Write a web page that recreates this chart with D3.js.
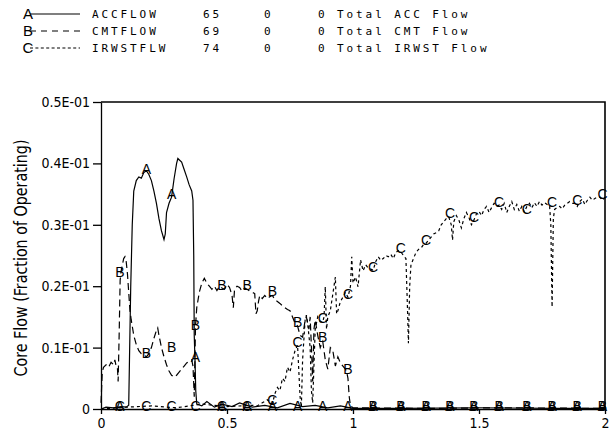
<!DOCTYPE html>
<html>
<head>
<meta charset="utf-8">
<script src="https://cdn.jsdelivr.net/npm/d3@7"></script>
<style>
  body { margin: 0; background: #fff; }
  svg { display: block; }
  .axis text { font-family: "DejaVu Sans Condensed", "DejaVu Sans", sans-serif; font-stretch: condensed; font-size: 14px; fill: #000; }
  .axis path, .axis line { stroke: #000; stroke-width: 1.3px; }
</style>
</head>
<body>
<div id="chart"></div>
<script>
// legend rows
var legendKeys = ["A", "B", "C"];
var legendNames = ["ACCFLOW", "CMTFLOW", "IRWSTFLW"];
var legendIds = ["65", "69", "74"];
var legendZero = ["0", "0", "0"];
var legendDesc = ["0 Total ACC Flow", "0 Total CMT Flow", "0 Total IRWST Flow"];

// tick labels
var yTicks = [0, 0.01, 0.02, 0.03, 0.04, 0.05];
var yTickLabels = ["0", "0.1E-01", "0.2E-01", "0.3E-01", "0.4E-01", "0.5E-01"];
var xTicks = [0, 0.5, 1, 1.5, 2];
var xTickLabels = ["0", "0.5", "1", "1.5", "2"];

// ACCFLOW [time, flow]
var accflow = [
  [0, 0], [0.02, 0.0003], [0.05, 0.0002], [0.08, 0.0004], [0.10, 0.0003], [0.11, 0.0006],
  [0.113, 0.008], [0.118, 0.020], [0.124, 0.030], [0.13, 0.0355], [0.14, 0.0372], [0.15, 0.0378],
  [0.16, 0.0376], [0.17, 0.0385], [0.18, 0.0388], [0.19, 0.0382], [0.20, 0.0372], [0.21, 0.0355],
  [0.22, 0.0335], [0.23, 0.031], [0.24, 0.029], [0.25, 0.0276], [0.255, 0.0285], [0.26, 0.032],
  [0.27, 0.0335], [0.28, 0.0345], [0.29, 0.0375], [0.30, 0.040], [0.305, 0.0408], [0.31, 0.0406],
  [0.32, 0.0402], [0.33, 0.039], [0.34, 0.0378], [0.35, 0.0365], [0.36, 0.0355], [0.365, 0.034],
  [0.368, 0.025], [0.370, 0.012], [0.373, 0.008], [0.376, 0.003], [0.38, 0.0008], [0.40, 0.0005],
  [0.42, 0.0012], [0.45, 0.0003], [0.48, 0.0008], [0.52, 0.0004], [0.55, 0.0010], [0.60, 0.0003],
  [0.65, 0.0006], [0.70, 0.0002], [0.75, 0.0009], [0.80, 0.0004], [0.85, 0.0006], [0.90, 0.0002],
  [0.95, 0.0005], [1.0, 0.0001], [1.2, 0.0001], [1.5, 0.0002], [1.8, 0.0001], [2.0, 0.0001]
];

// CMTFLOW [time, flow]
var cmtflow = [
  [0, 0.0010], [0.005, 0.0060], [0.01, 0.0068], [0.02, 0.0072], [0.03, 0.0068], [0.04, 0.0076],
  [0.05, 0.0072], [0.055, 0.0080], [0.06, 0.0070], [0.065, 0.0068], [0.068, 0.0045], [0.072, 0.012],
  [0.076, 0.021], [0.08, 0.0225], [0.085, 0.0235], [0.09, 0.0245], [0.095, 0.0248], [0.10, 0.0240],
  [0.105, 0.022], [0.11, 0.019], [0.115, 0.016], [0.12, 0.0145], [0.13, 0.012], [0.14, 0.0105],
  [0.15, 0.0095], [0.16, 0.0090], [0.17, 0.0088], [0.18, 0.0085], [0.19, 0.0090], [0.20, 0.0100],
  [0.21, 0.0115], [0.22, 0.0128], [0.225, 0.0132], [0.23, 0.0120], [0.24, 0.0100], [0.25, 0.0085],
  [0.26, 0.0072], [0.27, 0.0062], [0.28, 0.0055], [0.29, 0.0052], [0.30, 0.0055], [0.31, 0.0060],
  [0.32, 0.0065], [0.33, 0.0070], [0.34, 0.0075], [0.35, 0.0078], [0.36, 0.0080], [0.365, 0.0070],
  [0.37, 0.0020], [0.375, 0.0135], [0.38, 0.0165], [0.39, 0.019], [0.40, 0.0205], [0.41, 0.0213],
  [0.42, 0.0205], [0.43, 0.0200], [0.44, 0.0195], [0.45, 0.0200], [0.46, 0.0193], [0.47, 0.0200],
  [0.48, 0.0197], [0.49, 0.0195], [0.50, 0.0203], [0.51, 0.0198], [0.52, 0.0185], [0.525, 0.0165],
  [0.53, 0.0195], [0.54, 0.0200], [0.55, 0.0198], [0.56, 0.0192], [0.57, 0.0197], [0.58, 0.0195],
  [0.59, 0.0192], [0.60, 0.0190], [0.61, 0.0188], [0.615, 0.0155], [0.62, 0.0160], [0.625, 0.0175],
  [0.63, 0.0185], [0.64, 0.0180], [0.65, 0.0185], [0.66, 0.0180], [0.67, 0.0183], [0.68, 0.0185],
  [0.69, 0.0178], [0.70, 0.0175], [0.71, 0.0172], [0.72, 0.0168], [0.73, 0.0165], [0.74, 0.0162],
  [0.75, 0.0160], [0.76, 0.0150], [0.77, 0.0140], [0.78, 0.0135], [0.79, 0.0120], [0.80, 0.0117],
  [0.81, 0.0145], [0.815, 0.0150], [0.82, 0.0140], [0.825, 0.0130], [0.83, 0.0150], [0.835, 0.0100],
  [0.84, 0.0045], [0.845, 0.0130], [0.85, 0.0145], [0.86, 0.0120], [0.87, 0.0100], [0.88, 0.0110],
  [0.89, 0.0080], [0.90, 0.0065], [0.91, 0.0100], [0.92, 0.0095], [0.93, 0.0070], [0.94, 0.0085],
  [0.95, 0.0075], [0.96, 0.0070], [0.97, 0.0065], [0.975, 0.0060], [0.98, 0.0050], [0.985, 0.0020],
  [0.99, 0.0005], [1.0, 0.0002], [1.3, 0.0001], [1.6, 0.0002], [2.0, 0.0001]
];

// IRWSTFLW [time, flow]
var irwstflw = [
  [0, 0], [0.1, 0.0003], [0.2, 0.0005], [0.3, 0.0002], [0.4, 0.0008], [0.5, 0.0004], [0.6, 0.0006],
  [0.62, 0.0005], [0.64, 0.0010], [0.66, 0.0015], [0.68, 0.0008], [0.69, 0.0025], [0.70, 0.0035],
  [0.71, 0.0030], [0.72, 0.0050], [0.73, 0.0045], [0.74, 0.0068], [0.75, 0.0060], [0.76, 0.0080],
  [0.77, 0.0095], [0.78, 0.0104], [0.79, 0.0020], [0.795, 0.0003], [0.80, 0.0080], [0.81, 0.0145],
  [0.815, 0.0153], [0.82, 0.0140], [0.83, 0.0100], [0.835, 0.0030], [0.84, 0.0010], [0.85, 0.0130],
  [0.86, 0.0150], [0.87, 0.0142], [0.88, 0.0142], [0.885, 0.0150], [0.89, 0.0199], [0.895, 0.0130],
  [0.90, 0.0150], [0.91, 0.0160], [0.93, 0.0215], [0.935, 0.0155], [0.94, 0.0160], [0.95, 0.0175],
  [0.96, 0.0182], [0.97, 0.0190], [0.98, 0.0182], [0.99, 0.0200], [0.995, 0.0248], [1.00, 0.0205],
  [1.01, 0.0215], [1.02, 0.0199], [1.03, 0.0243], [1.04, 0.0225], [1.05, 0.0235], [1.06, 0.0230],
  [1.07, 0.0228], [1.08, 0.0226], [1.09, 0.0240], [1.10, 0.0248], [1.11, 0.0242], [1.12, 0.0245],
  [1.13, 0.0250], [1.14, 0.0248], [1.15, 0.0252], [1.16, 0.0245], [1.17, 0.0255], [1.18, 0.0258],
  [1.19, 0.0256], [1.20, 0.0250], [1.21, 0.0245], [1.215, 0.0180], [1.22, 0.0107], [1.225, 0.0200],
  [1.23, 0.0235], [1.24, 0.0245], [1.25, 0.0255], [1.26, 0.0260], [1.27, 0.0262], [1.28, 0.0268],
  [1.29, 0.0270], [1.30, 0.0275], [1.31, 0.0280], [1.32, 0.0285], [1.33, 0.0287], [1.34, 0.0290],
  [1.35, 0.0300], [1.36, 0.0305], [1.37, 0.0310], [1.38, 0.0313], [1.39, 0.0300], [1.395, 0.0275],
  [1.40, 0.0305], [1.41, 0.0315], [1.42, 0.0308], [1.43, 0.0295], [1.44, 0.0310], [1.45, 0.0320],
  [1.46, 0.0312], [1.47, 0.0300], [1.48, 0.0308], [1.49, 0.0318], [1.50, 0.0322], [1.51, 0.0315],
  [1.52, 0.0325], [1.53, 0.0330], [1.54, 0.0320], [1.55, 0.0328], [1.56, 0.0335], [1.57, 0.0330],
  [1.58, 0.0332], [1.59, 0.0325], [1.60, 0.0335], [1.61, 0.0320], [1.62, 0.0330], [1.63, 0.0338],
  [1.64, 0.0325], [1.65, 0.0333], [1.66, 0.0322], [1.67, 0.0330], [1.68, 0.0321], [1.69, 0.0330],
  [1.70, 0.0335], [1.71, 0.0328], [1.72, 0.0336], [1.73, 0.0330], [1.74, 0.0338], [1.75, 0.0332],
  [1.76, 0.0336], [1.77, 0.0333], [1.78, 0.0332], [1.785, 0.0300], [1.79, 0.0166], [1.795, 0.0310],
  [1.80, 0.0325], [1.81, 0.0328], [1.82, 0.0330], [1.83, 0.0326], [1.84, 0.0332], [1.85, 0.0335],
  [1.86, 0.0338], [1.87, 0.0335], [1.88, 0.0335], [1.89, 0.0330], [1.90, 0.0338], [1.91, 0.0342],
  [1.92, 0.0333], [1.93, 0.0340], [1.94, 0.0345], [1.95, 0.0340], [1.96, 0.0343], [1.97, 0.0345],
  [1.98, 0.0345], [1.99, 0.0340], [2.00, 0.0345]
];

// symbol positions along the curves
var markerX = [0.075, 0.18, 0.28, 0.375, 0.48, 0.58, 0.68, 0.78, 0.88, 0.98,
               1.08, 1.19, 1.29, 1.385, 1.48, 1.58, 1.69, 1.79, 1.89, 1.99];
var accMarks = [0, 0.0386, 0.0344, 0.008, 0, 0, 0, 0, 0, 0,
                0, 0, 0, 0, 0, 0, 0, 0, 0, 0];
var cmtMarks = [0.0218, 0.0085, 0.0096, 0.0132, 0.0197, 0.0197, 0.0186, 0.0137, 0.0112, 0.0059,
                0, 0, 0, 0, 0, 0, 0, 0, 0, 0];
var irwstMarks = [0, 0, 0, 0, 0, 0, 0.001, 0.0104, 0.0142, 0.0182,
                  0.0226, 0.0256, 0.027, 0.0313, 0.0308, 0.0332, 0.0321, 0.0332, 0.0335, 0.0345];

var dashes = ["none", "7,4", "3,3"];

var margin = {top: 102, right: 11, bottom: 22, left: 101};
var width = 616 - margin.left - margin.right,
    height = 431 - margin.top - margin.bottom;

var root = d3.select("#chart").append("svg")
    .attr("width", 616)
    .attr("height", 431);

var svg = root.append("g")
    .attr("transform", "translate(" + margin.left + "," + margin.top + ")");

var x = d3.scaleLinear().domain([0, 2]).range([0, width]);
var y = d3.scaleLinear().domain([0, 0.05]).range([height, 0]);

var yAxis = d3.axisLeft(y)
    .tickValues(yTicks)
    .tickSize(8)
    .tickSizeOuter(0)
    .tickFormat(function(d, i) { return yTickLabels[i]; });

var xAxis = d3.axisBottom(x)
    .tickValues(xTicks)
    .tickSize(5)
    .tickSizeOuter(0)
    .tickPadding(4)
    .tickFormat(function(d, i) { return xTickLabels[i]; });

svg.append("g")
    .attr("class", "x-axis axis")
    .attr("transform", "translate(0," + height + ")")
    .call(xAxis);

svg.append("g")
    .attr("class", "y-axis axis")
    .call(yAxis);

svg.selectAll(".axis .domain").attr("stroke-width", 1.6);
svg.selectAll(".y-axis text").attr("x", -11);

// frame top and right
svg.append("path")
    .attr("d", "M0,0H" + width + "V" + height)
    .attr("fill", "none")
    .attr("stroke", "#000")
    .attr("stroke-width", 1.6);

// y title
root.append("text")
    .attr("transform", "translate(27,258) rotate(-90)")
    .attr("text-anchor", "middle")
    .attr("textLength", 237)
    .attr("lengthAdjust", "spacingAndGlyphs")
    .style("font-family", "'DejaVu Sans Condensed', 'DejaVu Sans', sans-serif")
    .style("font-stretch", "condensed")
    .style("font-size", "18px")
    .text("Core Flow (Fraction of Operating)");

var line = d3.line()
    .x(function(d) { return x(d[0]); })
    .y(function(d) { return y(d[1]); });

var series = [accflow, cmtflow, irwstflw];
var marks = [accMarks, cmtMarks, irwstMarks];

series.forEach(function(s, i) {
    svg.append("path")
        .datum(s)
        .attr("d", line)
        .attr("fill", "none")
        .attr("stroke", "#000")
        .attr("stroke-width", 1.2)
        .attr("stroke-dasharray", dashes[i]);
});

marks.forEach(function(m, i) {
    svg.selectAll(".mark" + i)
        .data(m)
        .enter()
        .append("text")
        .attr("class", "mark" + i)
        .attr("x", function(d, j) { return x(markerX[j]); })
        .attr("y", function(d) { return y(d); })
        .attr("dy", "0.12em")
        .attr("text-anchor", "middle")
        .style("font-family", "'Liberation Sans', sans-serif")
        .style("font-size", "14px")
        .text(legendKeys[i]);
});

// legend
var legend = root.append("g").attr("class", "legend");
var rowY = [14, 31, 48];

legendKeys.forEach(function(k, i) {
    legend.append("line")
        .attr("x1", 30).attr("x2", 80)
        .attr("y1", rowY[i]).attr("y2", rowY[i])
        .attr("stroke", "#000")
        .attr("stroke-width", 1.1)
        .attr("stroke-dasharray", i == 0 ? "none" : (i == 1 ? "6,5" : "3,2.4"));

    legend.append("text")
        .attr("x", 28).attr("y", rowY[i]).attr("dy", "0.36em")
        .attr("text-anchor", "middle")
        .style("font-family", "'Liberation Sans', sans-serif")
        .style("font-size", "15px")
        .text(k);

    var cols = [[92, legendNames[i]], [203, legendIds[i]], [264, legendZero[i]], [318, legendDesc[i]]];
    cols.forEach(function(c) {
        legend.append("text")
            .attr("x", c[0]).attr("y", rowY[i]).attr("dy", "0.36em")
            .style("font-family", "'DejaVu Sans Mono', 'Liberation Mono', monospace")
            .style("font-size", "11px")
            .style("letter-spacing", "2.9px")
            .text(c[1]);
    });
});
</script>
</body>
</html>
